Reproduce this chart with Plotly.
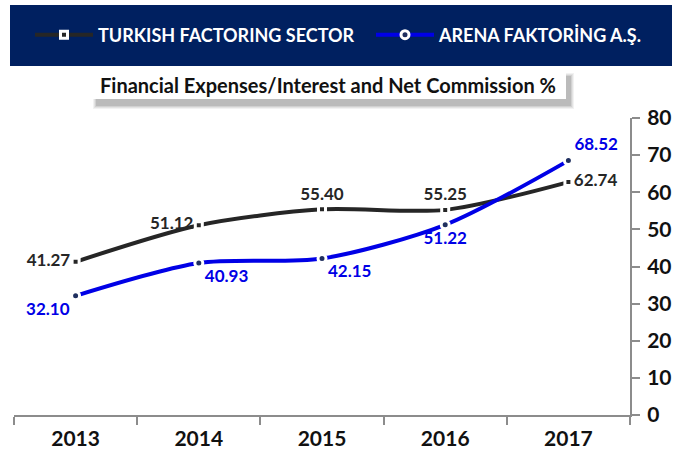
import plotly.graph_objects as go

years = ["2013", "2014", "2015", "2016", "2017"]
sector = [41.27, 51.12, 55.40, 55.25, 62.74]
arena = [32.10, 40.93, 42.15, 51.22, 68.52]
sector_name = "TURKISH FACTORING SECTOR"
arena_name = "ARENA FAKTORİNG A.Ş."
title_text = "Financial Expenses/Interest and Net Commission %"
y_ticks = [0, 10, 20, 30, 40, 50, 60, 70, 80]

FONT = "Lato"
W, H = 684, 455
L, R, T, B = 14, 54, 118, 40
PW, PH = W - L - R, H - T - B


def px(x):
    return (x - L) / PW


def py(y):
    return (H - B - y) / PH


sector_pos = ["middle left", "middle left", "top center", "top center", "middle right"]
arena_pos = ["bottom left", "bottom right", "bottom right", "bottom center", "top right"]

fig = go.Figure()
fig.add_trace(go.Scatter(
    x=years, y=sector, name=sector_name, mode="lines+markers+text", legend="legend",
    line=dict(color="#262626", width=4, shape="spline", smoothing=0.8),
    marker=dict(symbol="square", size=7, color="#262626", line=dict(color="white", width=3)),
    text=[f"{v:.2f}" for v in sector], textposition=sector_pos,
    textfont=dict(family=FONT, size=17, color="#262626", weight="bold"),
))
fig.add_trace(go.Scatter(
    x=years, y=arena, name=arena_name, mode="lines+markers+text", legend="legend2",
    line=dict(color="#0000e6", width=4, shape="spline", smoothing=0.8),
    marker=dict(symbol="circle", size=8, color="#1f2f5f", line=dict(color="white", width=3)),
    text=[f"{v:.2f}" for v in arena], textposition=arena_pos,
    textfont=dict(family=FONT, size=17, color="#0000e6", weight="bold"),
))

shapes = [
    dict(type="rect", xref="paper", yref="paper", x0=px(10), x1=px(672), y0=py(66), y1=py(5),
         fillcolor="#002060", line=dict(width=0), layer="below"),
]
# soft shadow for title box
for i, a in enumerate([0.05, 0.06, 0.08, 0.10]):
    d = 3 - i
    shapes.append(dict(type="rect", xref="paper", yref="paper",
                       x0=px(96 - d), x1=px(571 + d), y0=py(106 + d), y1=py(76 - d),
                       fillcolor=f"rgba(0,0,0,{a})", line=dict(width=0), layer="below"))
shapes.append(dict(type="rect", xref="paper", yref="paper", x0=px(92), x1=px(566),
                   y0=py(99), y1=py(69), fillcolor="white", line=dict(width=0), layer="below"))

legend_common = dict(orientation="h", xanchor="left", xref="container",
                     y=1 - 35 / H, yanchor="middle", yref="container",
                     bgcolor="rgba(0,0,0,0)", itemwidth=58,
                     font=dict(family=FONT, size=18, color="white", weight="bold"))

fig.update_layout(
    width=W, height=H,
    margin=dict(l=L, r=R, t=T, b=B),
    paper_bgcolor="white", plot_bgcolor="white",
    showlegend=True,
    legend=dict(x=30 / W, **legend_common),
    legend2=dict(x=371 / W, **legend_common),
    shapes=shapes,
    annotations=[dict(text=title_text, xref="paper", yref="paper", x=px(328), y=py(85),
                      xanchor="center", yanchor="middle", showarrow=False,
                      font=dict(family=FONT, size=20, color="#111", weight="bold"))],
    xaxis=dict(type="category", range=[-0.5, 4.5], showgrid=False, showline=True,
               linecolor="#8c8c8c", linewidth=2, ticks="outside", tickcolor="#8c8c8c",
               ticklen=8, tickwidth=2, tickson="boundaries", automargin=False,
               ticklabelstandoff=4,
               tickfont=dict(family=FONT, size=21, color="#111", weight="bold")),
    yaxis=dict(range=[0, 80], tickvals=y_ticks, side="right", showgrid=False, showline=True,
               linecolor="#8c8c8c", linewidth=2, ticks="outside", tickcolor="#8c8c8c",
               ticklen=8, tickwidth=2, zeroline=False, automargin=False,
               ticklabelstandoff=3,
               tickfont=dict(family=FONT, size=21, color="#111", weight="bold")),
)

fig.write_html("out.html", config={"displayModeBar": False},
               post_script="document.body.style.margin='0';")
